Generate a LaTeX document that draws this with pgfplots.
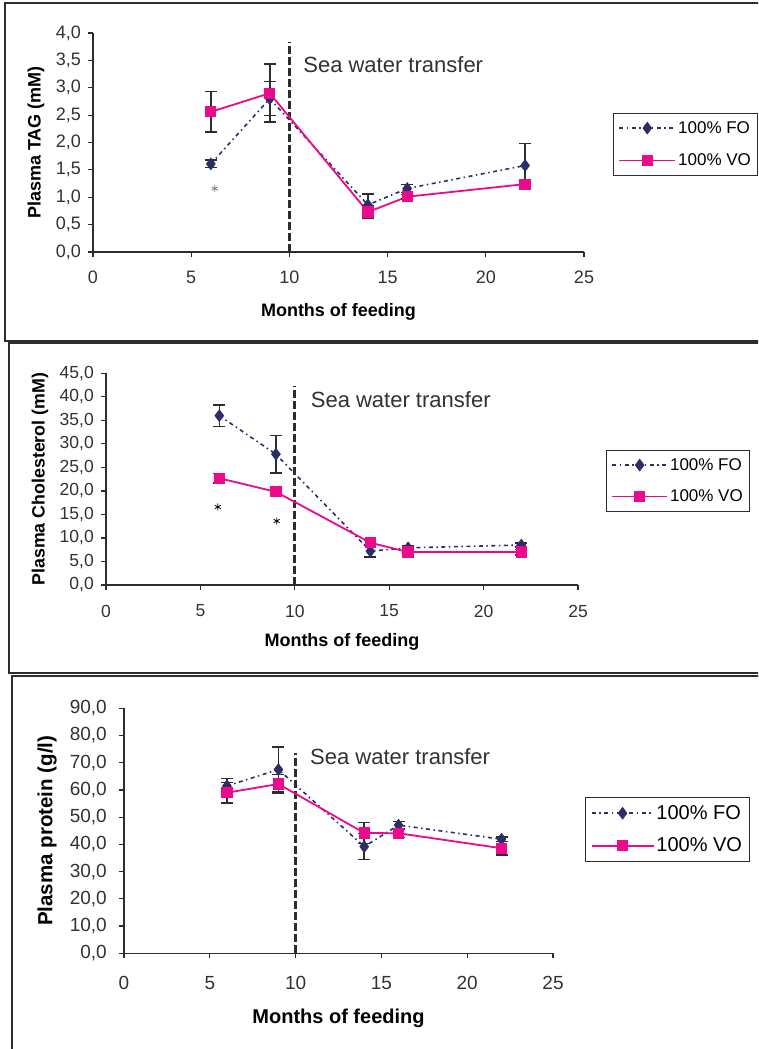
\documentclass[border=0pt]{standalone}
\usepackage{pgfplots}
\pgfplotsset{compat=1.18}
\usepackage{fontspec}
\setmainfont{Liberation Sans}
\definecolor{focol}{RGB}{45,45,105}
\definecolor{vocol}{RGB}{236,10,140}
\definecolor{ebcol}{RGB}{45,45,45}
\definecolor{txcol}{RGB}{50,50,50}

\pgfplotsset{
  myaxis/.style={
    scale only axis, anchor=south west,
    axis lines*=left, axis line style={ebcol, line width=1.2pt},
    xmin=0, xmax=25, ymin=0,
    xtick={0,5,...,25},
    tick align=outside, major tick length=5pt,
    tick style={ebcol, line width=1.2pt},
    clip=false,
    /pgf/number format/assume math mode=true,
    y tick label style={/pgf/number format/fixed, /pgf/number format/fixed zerofill, /pgf/number format/precision=1, /pgf/number format/use comma},
    every x tick label/.append style={anchor=center, text=txcol},
    every y tick label/.append style={anchor=east, text=txcol, inner sep=0pt},
    legend cell align=left,
    legend style={draw=ebcol, line width=1pt, anchor=north west, text=black, inner xsep=5pt, inner ysep=6pt},
  },
  fostyle/.style={focol, line width=1.6pt, dash pattern=on 4pt off 3.5pt on 1.5pt off 3.5pt,
    mark=diamond*, mark size=6pt, mark options={solid, fill=focol, draw=focol, line width=0.5pt}},
  vostyle/.style={vocol, line width=1.8pt, solid, mark=square*, mark size=4.7pt,
    mark options={solid, fill=vocol, draw=vocol}},
  ebars/.style={error bars/.cd, y dir=both, y explicit,
    error bar style={ebcol, line width=1.5pt, solid},
    error mark options={rotate=90, ebcol, mark size=6pt, line width=1.5pt, solid}},
  leglen/.style={legend image code/.code={%
    \draw[mark repeat=2, mark phase=2, ##1] plot coordinates {(0pt,0pt) (#1/2,0pt) (#1,0pt)};}},
  sea/.style={forget plot, ebcol, line width=3pt, dash pattern=on 8pt off 3pt},
}

\begin{document}
\begin{tikzpicture}
\useasboundingbox (0,0) rectangle (758pt,-1049pt);
\clip (0,0) rectangle (758pt,-1049pt);
\fill[white] (0,0) rectangle (758pt,-1049pt);
% frames
\draw[ebcol, line width=1.3pt] (5pt,-3pt) rectangle (800pt,-341pt);
\draw[ebcol, line width=1.3pt] (9pt,-343pt) rectangle (800pt,-673pt);
\draw[ebcol, line width=1.3pt] (12pt,-676pt) rectangle (800pt,-1100pt);

% ---------- Panel 1: TAG ----------
\begin{axis}[myaxis,
  at={(93pt,-252pt)}, width=491pt, height=219pt,
  ymax=4, ytick={0,0.5,...,4},
  tick label style={font=\fontsize{18}{18}\selectfont},
  every x tick label/.append style={yshift=-20pt},
  every y tick label/.append style={xshift=-7pt},
  xlabel={Months of feeding}, ylabel={Plasma TAG (mM)},
  xlabel style={font=\bfseries\fontsize{18}{18}\selectfont, at={(axis description cs:0.5,-0.274)}, anchor=center},
  ylabel style={font=\bfseries\fontsize{18}{18}\selectfont, at={(axis description cs:-0.116,0.5)}, anchor=center},
  legend style={at={(1.059,0.635)}, font=\fontsize{17}{17}\selectfont, row sep=15pt},
  legend image post style={line width=1.7pt},
  leglen=56pt,
]
\addplot[sea] coordinates {(10,0) (10,3.84)};
\addplot[fostyle, ebars] table[x=x, y=y, y error=e] {
x y e
6 1.61 0.07
9 2.80 0.31
14 0.86 0.20
16 1.16 0.07
22 1.58 0.40
};
\addlegendentry{100\% FO}
\addplot[vostyle, ebars] table[x=x, y=y, y error=e] {
x y e
6 2.56 0.37
9 2.90 0.53
14 0.73 0.11
16 1.01 0.04
22 1.24 0.08
};
\addlegendentry{100\% VO}
\addplot[forget plot, only marks, mark=asterisk, mark size=3.5pt, gray, line width=0.8pt] coordinates {(6.2,1.16)};
\node[anchor=west, text=txcol, font=\fontsize{22}{22}\selectfont, inner sep=0pt] at (axis cs:10.7,3.43) {Sea water transfer};
\end{axis}

% ---------- Panel 2: Cholesterol ----------
\begin{axis}[myaxis,
  at={(106pt,-585pt)}, width=472pt, height=211.7pt,
  ymax=45, ytick={0,5,...,45},
  tick label style={font=\fontsize{17.5}{17.5}\selectfont},
  every x tick label/.append style={yshift=-21pt},
  every y tick label/.append style={xshift=-7pt},
  xlabel={Months of feeding}, ylabel={Plasma Cholesterol (mM)},
  xlabel style={font=\bfseries\fontsize{18}{18}\selectfont, at={(axis description cs:0.5,-0.269)}, anchor=center},
  ylabel style={font=\bfseries\fontsize{17.8}{17.8}\selectfont, at={(axis description cs:-0.140,0.5)}, anchor=center},
  legend style={at={(1.059,0.638)}, font=\fontsize{17}{17}\selectfont, row sep=14pt},
  legend image post style={line width=1.7pt},
  leglen=55pt,
]
\addplot[sea] coordinates {(10,0) (10,42.4)};
\addplot[fostyle, ebars] table[x=x, y=y, y error=e] {
x y e
6 36.0 2.3
9 27.8 4.0
14 7.2 1.2
16 7.9 0.4
22 8.5 0.4
};
\addlegendentry{100\% FO}
\addplot[vostyle, ebars] table[x=x, y=y, y error=e] {
x y e
6 22.7 1.0
9 19.8 0.5
14 9.0 0.5
16 7.0 0.4
22 7.0 0.6
};
\addlegendentry{100\% VO}
\addplot[forget plot, only marks, mark=asterisk, mark size=3.5pt, black, line width=0.8pt] coordinates {(5.92,16.6) (9.04,13.6)};
\node[anchor=west, text=txcol, font=\fontsize{22}{22}\selectfont, inner sep=0pt] at (axis cs:10.84,39.3) {Sea water transfer};
\end{axis}

% ---------- Panel 3: Protein ----------
\begin{axis}[myaxis,
  at={(124pt,-953.3pt)}, width=429pt, height=245pt,
  ymax=90, ytick={0,10,...,90},
  tick label style={font=\fontsize{19}{19}\selectfont},
  every x tick label/.append style={yshift=-25pt},
  every y tick label/.append style={xshift=-12pt},
  xlabel={Months of feeding}, ylabel={Plasma protein (g/l)},
  xlabel style={font=\bfseries\fontsize{20}{20}\selectfont, at={(axis description cs:0.5,-0.265)}, anchor=center},
  ylabel style={font=\bfseries\fontsize{20.5}{20.5}\selectfont, at={(axis description cs:-0.179,0.5)}, anchor=center},
  legend style={at={(1.075,0.638)}, font=\fontsize{20}{20}\selectfont, row sep=13pt},
  legend image post style={line width=1.8pt},
  leglen=62pt,
]
\addplot[sea] coordinates {(10,0) (10,73.7)};
\addplot[fostyle, ebars] table[x=x, y=y, y error=e] {
x y e
6 61.5 2.7
9 67.5 8.3
14 39.2 4.8
16 47.1 1.4
22 41.9 0.9
};
\addlegendentry{100\% FO}
\addplot[vostyle, ebars] table[x=x, y=y, y error=e] {
x y e
6 59.0 3.7
9 62.2 3.4
14 44.2 3.8
16 44.1 1.5
22 38.6 2.5
};
\addlegendentry{100\% VO}
\node[anchor=west, text=txcol, font=\fontsize{22}{22}\selectfont, inner sep=0pt] at (axis cs:10.84,72.2) {Sea water transfer};
\end{axis}
\end{tikzpicture}
\end{document}
